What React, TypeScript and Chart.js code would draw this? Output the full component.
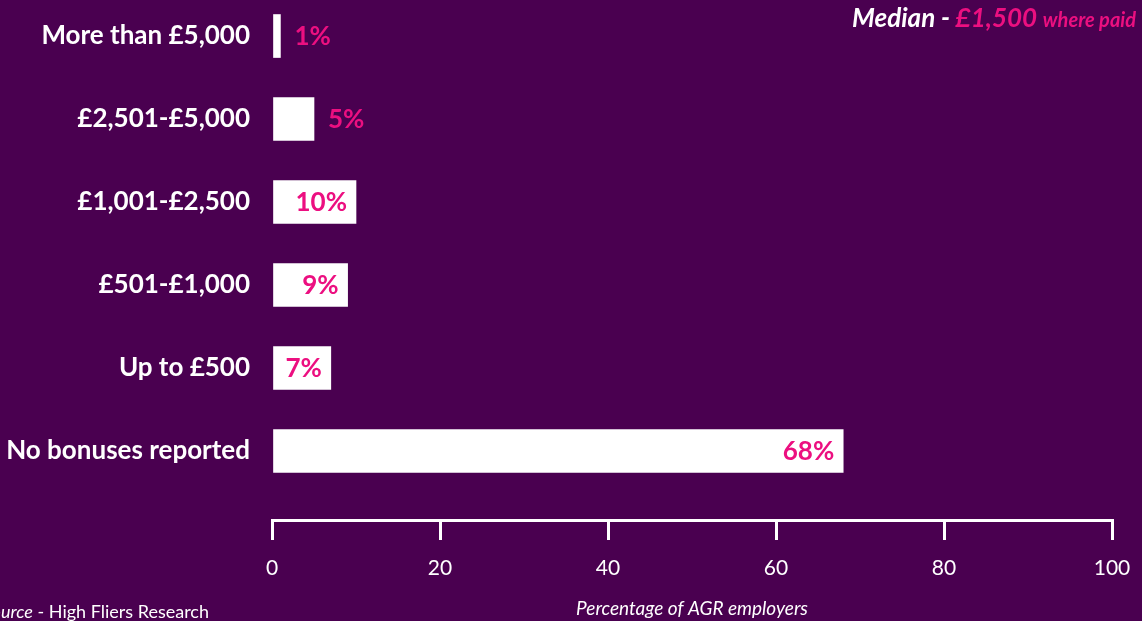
import React, { useEffect, useRef } from "react";
import { Chart, registerables } from "chart.js";

Chart.register(...registerables);

const categories = [
  "More than £5,000",
  "£2,501-£5,000",
  "£1,001-£2,500",
  "£501-£1,000",
  "Up to £500",
  "No bonuses reported",
];
const values = [1, 5, 10, 9, 7, 68];
const xTickValues = [0, 20, 40, 60, 80, 100];

const BG = "#4A0050";
const PINK = "#EC0F80";
const FONT = "Lato, 'Open Sans', sans-serif";

const labelPlugin = {
  id: "barLabels",
  afterDatasetsDraw(chart: any) {
    const ctx = chart.ctx;
    const meta = chart.getDatasetMeta(0);
    ctx.save();
    ctx.font = `bold 26px ${FONT}`;
    ctx.fillStyle = PINK;
    ctx.textBaseline = "middle";
    meta.data.forEach((bar: any, i: number) => {
      const v = values[i];
      const w = bar.x - bar.base;
      const text = `${v}%`;
      if (w > 50) {
        ctx.textAlign = "right";
        ctx.fillText(text, bar.x - 9, bar.y + 1);
      } else {
        ctx.textAlign = "left";
        ctx.fillText(text, bar.x + 14, bar.y + 1);
      }
    });
    ctx.restore();
  },
};

export default function App() {
  const ref = useRef<HTMLCanvasElement | null>(null);
  useEffect(() => {
    if (!ref.current) return;
    Chart.defaults.font.family = FONT;
    const chart = new Chart(ref.current, {
      type: "bar",
      data: {
        datasets: [
          {
            data: values.map((v, i) => ({ x: v, y: i })) as any,
            backgroundColor: "#FFFFFF",
            borderWidth: 0,
            barThickness: 43,
          },
        ],
      },
      options: {
        indexAxis: "y",
        animation: false,
        responsive: false,
        events: [],
        layout: { padding: { left: 0, right: 30, top: 0, bottom: 0 } },
        plugins: {
          legend: { display: false },
          tooltip: { enabled: false },
        },
        scales: {
          x: {
            type: "linear",
            position: "bottom",
            min: 0,
            max: 100,
            afterBuildTicks: (scale: any) => {
              scale.ticks = xTickValues.map((v) => ({ value: v }));
            },
            afterFit: (scale: any) => {
              scale.height = 101;
              scale.paddingLeft = 0;
              scale.paddingRight = 0;
            },
            grid: {
              drawOnChartArea: false,
              drawTicks: true,
              tickLength: 20,
              color: "#FFFFFF",
              lineWidth: 3,
            },
            border: { display: true, color: "#FFFFFF", width: 3 },
            ticks: {
              color: "#FFFFFF",
              font: { size: 21, family: FONT },
              padding: 16,
              maxRotation: 0,
            },
            title: {
              display: true,
              text: "Percentage of AGR employers",
              color: "#FFFFFF",
              font: { size: 19, style: "italic", family: FONT },
              padding: { top: 0, bottom: 1 },
            },
          },
          y: {
            type: "linear",
            reverse: true,
            offset: false,
            min: -0.434,
            max: 5.831,
            afterBuildTicks: (scale: any) => {
              scale.ticks = categories.map((_, i) => ({ value: i }));
            },
            afterFit: (scale: any) => {
              scale.width = 272;
              scale.paddingTop = 0;
              scale.paddingBottom = 0;
            },
            grid: { display: false, drawTicks: false, offset: false },
            border: { display: false },
            ticks: {
              color: "#FFFFFF",
              font: { size: 26, weight: "bold", family: FONT },
              padding: 22,
              autoSkip: false,
              callback: (v: any) => categories[v] ?? "",
            },
          },
        },
      },
      plugins: [labelPlugin],
    });
    return () => chart.destroy();
  }, []);

  return (
    <div
      style={{
        position: "fixed",
        left: 0,
        top: 0,
        width: 1142,
        height: 621,
        background: BG,
        overflow: "hidden",
        fontFamily: FONT,
      }}
    >
      <canvas ref={ref} width={1142} height={621} style={{ position: "absolute", left: 0, top: 0 }} />
      <div
        style={{
          position: "absolute",
          right: 6,
          top: 2,
          whiteSpace: "nowrap",
          fontStyle: "italic",
          fontWeight: "bold",
          lineHeight: "31px",
        }}
      >
        <span style={{ color: "#FFFFFF", fontSize: 26 }}>Median - </span>
        <span style={{ color: PINK, fontSize: 26 }}>£1,500 </span>
        <span style={{ color: PINK, fontSize: 20 }}>where paid</span>
      </div>
      <div
        style={{
          position: "absolute",
          right: 933,
          top: 601,
          whiteSpace: "nowrap",
          color: "#FFFFFF",
          fontSize: 18,
          lineHeight: "21px",
        }}
      >
        <span style={{ fontStyle: "italic" }}>Source</span> - High Fliers Research
      </div>
    </div>
  );
}
